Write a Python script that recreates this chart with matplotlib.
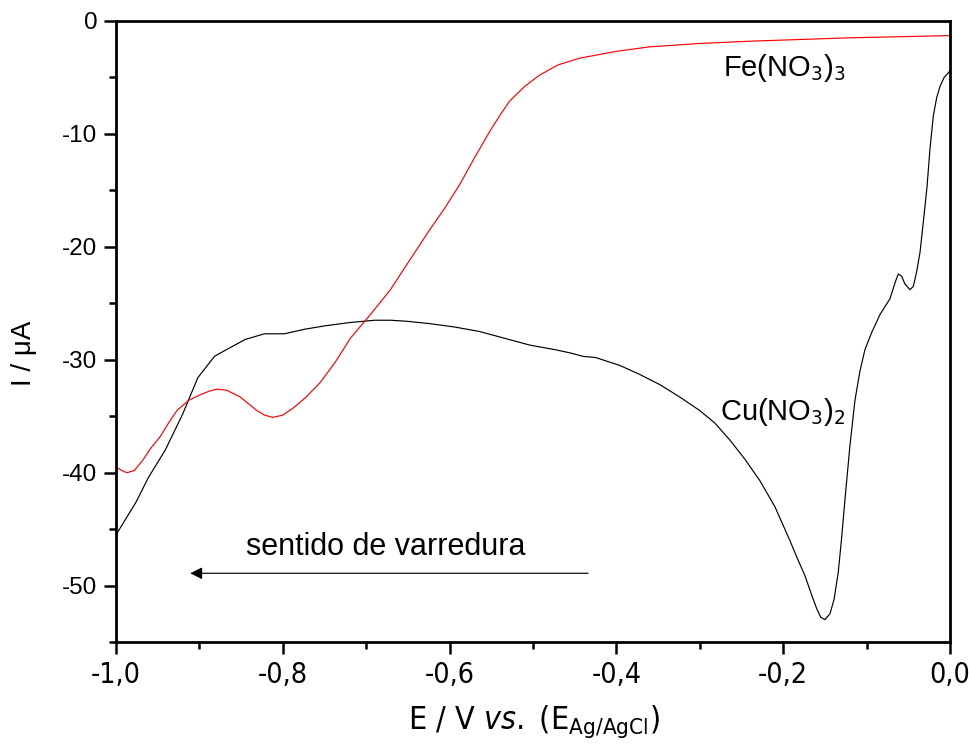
import matplotlib
matplotlib.use("Agg")
import matplotlib.pyplot as plt
from matplotlib import font_manager
from matplotlib.ticker import MultipleLocator, FuncFormatter

# Cu(NO3)2 - curva preta
cu_e = [-1.0, -0.976, -0.961, -0.941, -0.920, -0.902, -0.882, -0.870, -0.845,
        -0.822, -0.798, -0.774, -0.750, -0.719, -0.690, -0.671, -0.650, -0.624,
        -0.594, -0.564, -0.534, -0.504, -0.474, -0.455, -0.440, -0.425, -0.396,
        -0.372, -0.348, -0.324, -0.300, -0.282, -0.264, -0.246, -0.228, -0.210,
        -0.192, -0.183, -0.174, -0.166, -0.160, -0.155, -0.150, -0.144, -0.139,
        -0.134, -0.130, -0.126, -0.120, -0.114, -0.108, -0.102, -0.094, -0.084,
        -0.072, -0.066, -0.062, -0.058, -0.054, -0.048, -0.044, -0.040, -0.036,
        -0.032, -0.0276, -0.024, -0.020, -0.016, -0.012, -0.007, -0.002, 0.0]
cu_i = [-45.5, -42.6, -40.4, -38.0, -34.8, -31.6, -29.7, -29.2, -28.2,
        -27.7, -27.7, -27.3, -27.0, -26.7, -26.5, -26.5, -26.6, -26.8,
        -27.1, -27.5, -28.1, -28.7, -29.1, -29.4, -29.7, -29.8, -30.5,
        -31.3, -32.2, -33.3, -34.5, -35.6, -37.1, -38.8, -40.7, -43.0,
        -46.0, -47.6, -49.1, -50.8, -52.0, -52.8, -53.0, -52.5, -51.2,
        -48.8, -45.8, -42.4, -37.6, -33.6, -31.0, -29.1, -27.6, -26.0,
        -24.6, -23.2, -22.4, -22.6, -23.3, -23.8, -23.5, -22.2, -20.5,
        -17.8, -14.7, -11.3, -8.4, -6.8, -5.8, -5.0, -4.6, -4.4]

# Fe(NO3)3 - curva vermelha
fe_e = [-1.0, -0.993, -0.987, -0.978, -0.968, -0.958, -0.947, -0.937, -0.927,
        -0.913, -0.899, -0.889, -0.879, -0.867, -0.851, -0.841, -0.831, -0.822,
        -0.812, -0.800, -0.788, -0.772, -0.755, -0.737, -0.719, -0.695, -0.671,
        -0.648, -0.624, -0.606, -0.588, -0.570, -0.552, -0.540, -0.528, -0.510,
        -0.492, -0.470, -0.444, -0.400, -0.360, -0.300, -0.240, -0.180, -0.120,
        -0.060, 0.0]
fe_i = [-39.5, -39.8, -40.0, -39.8, -38.9, -37.8, -36.8, -35.6, -34.5,
        -33.6, -33.1, -32.8, -32.6, -32.7, -33.3, -33.9, -34.5, -34.9,
        -35.1, -34.9, -34.3, -33.3, -32.0, -30.2, -28.1, -26.0, -23.8,
        -21.2, -18.5, -16.6, -14.5, -12.1, -9.8, -8.4, -7.1, -5.8,
        -4.8, -3.9, -3.3, -2.7, -2.3, -2.0, -1.8, -1.65, -1.5,
        -1.4, -1.3]


def achar_estreita():
    # procura uma fonte condensada (tipo Arial Narrow) instalada
    fontes = font_manager.fontManager.ttflist
    for f in fontes:
        if f.name == "Liberation Sans Narrow" and f.style == "normal" and f.weight in (400, "normal"):
            return "Liberation Sans Narrow", f.fname
    for f in fontes:
        if f.name == "DejaVu Sans" and "condensed" in str(f.stretch) and f.style == "normal" \
                and f.weight in (400, "normal"):
            return "DejaVu Sans:stretch=condensed", f.fname
    return None, None


normal = "Liberation Sans"
padrao_estreita, arq_estreita = achar_estreita()
tem_estreita = arq_estreita is not None
if not tem_estreita:
    padrao_estreita = normal

plt.rcParams["font.family"] = normal
plt.rcParams["mathtext.fontset"] = "custom"
plt.rcParams["mathtext.rm"] = normal
plt.rcParams["mathtext.it"] = normal + ":italic"

fig = plt.figure(figsize=(9.7, 7.45), dpi=100)
ax = fig.add_axes([0.1196, 0.138, 0.8598, 0.834])

ax.plot(cu_e, cu_i, color="black", lw=0.85)
ax.plot(fe_e, fe_i, color="red", lw=0.85)

ax.set_xlim(-1.0, 0.0)
ax.set_ylim(-55, 0)

ax.xaxis.set_major_locator(MultipleLocator(0.2))
ax.xaxis.set_minor_locator(MultipleLocator(0.1))
ax.yaxis.set_major_locator(MultipleLocator(10))
ax.yaxis.set_minor_locator(MultipleLocator(5))
ax.xaxis.set_major_formatter(FuncFormatter(lambda v, p: f"{v:.1f}".replace(".", ",").replace("-0,0", "0,0")))
ax.yaxis.set_major_formatter(FuncFormatter(lambda v, p: f"{v:.0f}"))

for s in ax.spines.values():
    s.set_linewidth(2.0)
ax.tick_params(which="both", direction="out", width=1.8, top=False, right=False)
ax.tick_params(which="major", length=8.5, pad=5)
ax.tick_params(axis="y", which="major", labelsize=17.5)
ax.tick_params(which="minor", length=5)

if tem_estreita:
    fp_ticks = font_manager.FontProperties(fname=arq_estreita, size=20.5)
    tam_xlabel = 23
else:
    fp_ticks = font_manager.FontProperties(family=normal, size=17.5)
    tam_xlabel = 21
for lab in ax.get_xticklabels():
    lab.set_fontproperties(fp_ticks)

fig.text(24 / 970, 1 - 353 / 745, "I / μA", fontsize=20, rotation=90,
         ha="center", va="center")

plt.rcParams["mathtext.rm"] = padrao_estreita
plt.rcParams["mathtext.it"] = padrao_estreita + ":italic"
if tem_estreita:
    fp_xl = font_manager.FontProperties(fname=arq_estreita, size=tam_xlabel)
else:
    fp_xl = font_manager.FontProperties(family=normal, size=tam_xlabel)
fig.text(534 / 970, 1 - 729 / 745, r"E / V $\mathit{vs.}$ (E$_{\rm Ag/AgCl}$)",
         fontproperties=fp_xl, ha="center", va="baseline")

ax.text(-0.272, -4.87, r"Fe(NO$_3$)$_3$", fontsize=21, ha="left", va="baseline")
ax.text(-0.276, -35.3, r"Cu(NO$_3$)$_2$", fontsize=21, ha="left", va="baseline")
ax.text(-0.844, -47.3, "sentido de varredura", fontsize=22, ha="left", va="baseline")
ax.annotate("", xy=(-0.911, -48.9), xytext=(-0.434, -48.9),
            arrowprops=dict(arrowstyle="-|>", color="black", lw=0.85,
                            mutation_scale=18, shrinkA=0, shrinkB=0))

fig.savefig("out.png", dpi=100)
